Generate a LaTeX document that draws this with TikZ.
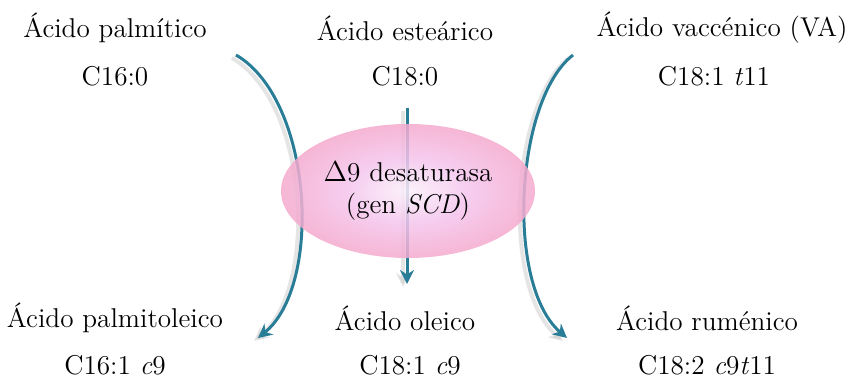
\documentclass[tikz,border=0pt]{standalone}
\usepackage{fontspec}
\usepackage{tikz}
\usetikzlibrary{arrows.meta,shapes.geometric}

\definecolor{flecha}{HTML}{2A7D96}
\definecolor{rosa}{HTML}{F497B8}
\definecolor{lila}{HTML}{F4C4EC}
\definecolor{rosaclaro}{HTML}{FBF0FB}

% relleno de la enzima
\pgfdeclareradialshading{enzima}{\pgfpoint{0bp}{0bp}}{%
  color(0bp)=(rosaclaro); color(12bp)=(lila); color(34bp)=(rosa); color(100bp)=(rosa)}

\begin{document}
\begin{tikzpicture}[x=0.5pt,y=-0.5pt,>={Stealth[length=7pt,width=7pt]},
  txt/.style={font=\fontsize{13.6}{16}\selectfont},
  curva/.style={->,draw=flecha,line width=1.5pt,
    preaction={draw=black!25,line width=2pt,opacity=0.4,
      transform canvas={shift={(-2pt,-1.5pt)}}}}]

\useasboundingbox (0,0) rectangle (849,378);

% arriba
\node[txt] (palm) at (115,28) {Ácido palmítico};
\node[txt] (c160) at (115,76) {C16:0};
\node[txt] (este) at (405,28) {Ácido esteárico};
\node[txt] (c180) at (405,76) {C18:0};
\node[txt] (vacc) at (722,28) {Ácido vaccénico (VA)};
\node[txt] (c181t) at (714,76) {C18:1 \textit{t}11};

% abajo
\node[txt] (palmo) at (115,318) {Ácido palmitoleico};
\node[txt] (c161) at (115,365) {C16:1 \textit{c}9};
\node[txt] (olei) at (405,318) {Ácido oleico};
\node[txt] (c181c) at (410,365) {C18:1 \textit{c}9};
\node[txt] (rume) at (707,318) {Ácido ruménico};
\node[txt] (c182) at (707,365) {C18:2 \textit{c}9\textit{t}11};

% extremos de las flechas
\coordinate (l0) at (236,55);
\coordinate (l1) at (258,338);
\coordinate (r0) at (573,55);
\coordinate (r1) at (567,338);
\coordinate (m0) at (407,108);
\coordinate (m1) at (407,284);

% izquierda
\draw[curva] (l0) .. controls (313,100) and (323,285) .. (l1);
% derecha
\draw[curva] (r0) .. controls (515,100) and (505,285) .. (r1);
% centro
\draw[curva] (m0) -- (m1);

% enzima
\node[ellipse,inner sep=0pt,shading=enzima,fill opacity=0.85,
  minimum width=127pt,minimum height=67pt] (scd) at (408,191) {};
\node[txt,align=center] (scdtxt) at (408,191) {$\Delta$9 desaturasa\\(gen \textit{SCD})};

\end{tikzpicture}
\end{document}
